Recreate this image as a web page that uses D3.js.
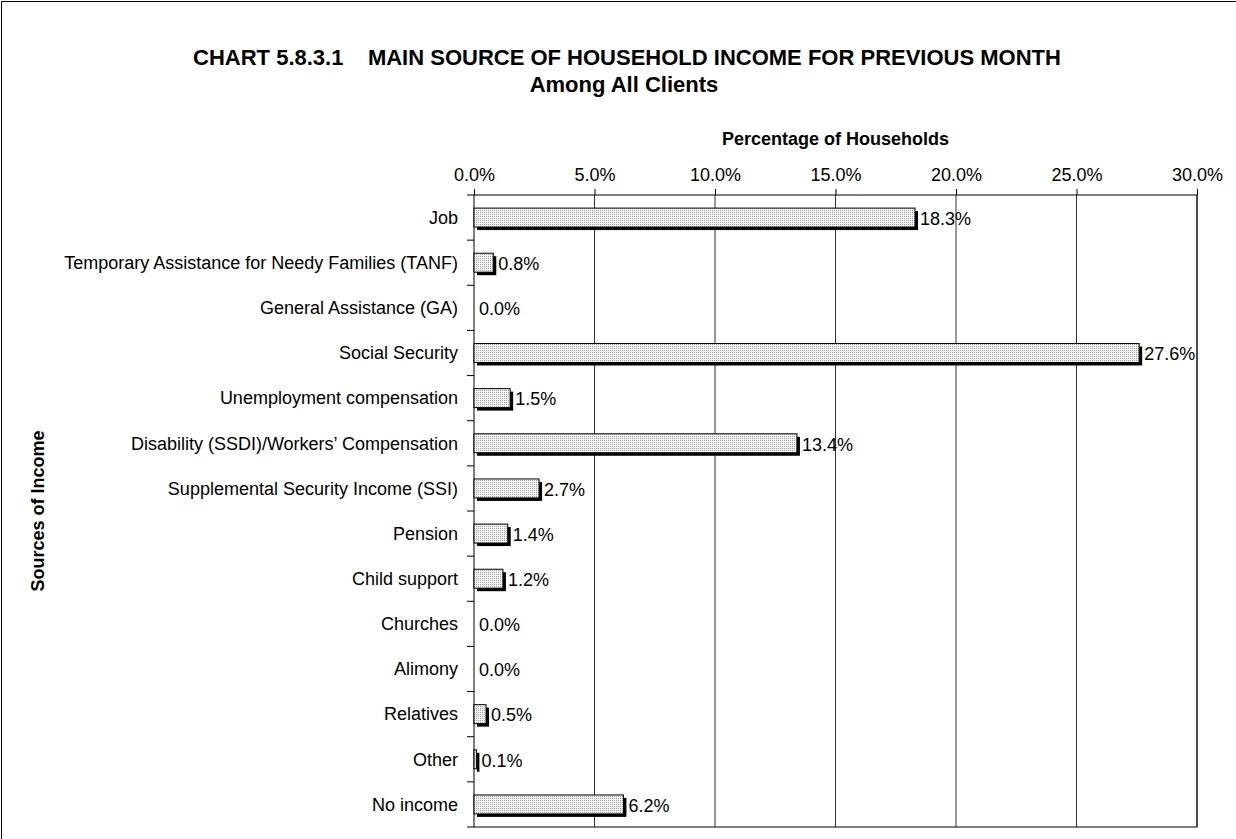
<!DOCTYPE html>
<html>
<head>
<meta charset="utf-8">
<style>
  body { margin: 0; background: #fff; }
  svg { display: block; font-family: "Liberation Sans", Arial, sans-serif; }
</style>
</head>
<body>
<div id="chartId"></div>
<script src="https://d3js.org/d3.v7.min.js"></script>
<script>

// Data
const categories = [
  "Job",
  "Temporary Assistance for Needy Families (TANF)",
  "General Assistance (GA)",
  "Social Security",
  "Unemployment compensation",
  "Disability (SSDI)/Workers\u2019 Compensation",
  "Supplemental Security Income (SSI)",
  "Pension",
  "Child support",
  "Churches",
  "Alimony",
  "Relatives",
  "Other",
  "No income"
];
const values = [18.3, 0.8, 0.0, 27.6, 1.5, 13.4, 2.7, 1.4, 1.2, 0.0, 0.0, 0.5, 0.1, 6.2];
const xTicks = [0, 5, 10, 15, 20, 25, 30];

const W = 1236, H = 839;
const plot = {left: 474, right: 1197, top: 195, bottom: 827};

const rows = categories.map((c, i) => ({name: c, value: values[i]}));

const svg = d3.select("#chartId").append("svg")
  .attr("width", W).attr("height", H);

// dotted fill for the bars
const pat = svg.append("defs").append("pattern")
  .attr("id", "dots").attr("patternUnits", "userSpaceOnUse")
  .attr("width", 2).attr("height", 2);
pat.append("rect").attr("width", 2).attr("height", 2).attr("fill", "#f4f4f4");
pat.append("rect").attr("width", 1).attr("height", 1).attr("fill", "#a0a0a0");

// outer frame (top and left edges visible)
svg.append("path").attr("d", `M1.5,${H} V1.5 H${W}`)
  .attr("fill", "none").attr("stroke", "#000").attr("stroke-width", 1);

// titles
svg.append("text").attr("x", 627).attr("y", 65)
  .attr("text-anchor", "middle").attr("font-weight", "bold").attr("font-size", "22px")
  .attr("xml:space", "preserve")
  .text("CHART 5.8.3.1    MAIN SOURCE OF HOUSEHOLD INCOME FOR PREVIOUS MONTH");
svg.append("text").attr("x", 624).attr("y", 92)
  .attr("text-anchor", "middle").attr("font-weight", "bold").attr("font-size", "22px")
  .text("Among All Clients");
svg.append("text").attr("x", (plot.left + plot.right) / 2).attr("y", 145)
  .attr("text-anchor", "middle").attr("font-weight", "bold").attr("font-size", "18px")
  .text("Percentage of Households");
svg.append("text")
  .attr("transform", "translate(44,511) rotate(-90)")
  .attr("text-anchor", "middle").attr("font-weight", "bold").attr("font-size", "18px")
  .text("Sources of Income");

const x = d3.scaleLinear().domain([0, 30]).range([plot.left, plot.right]);
const y = d3.scaleBand().domain(categories).range([plot.top, plot.bottom])
  .paddingInner(0.58).paddingOuter(0.29);

// gridlines
svg.append("g").selectAll("line").data(xTicks.slice(1)).join("line")
  .attr("x1", d => x(d)).attr("x2", d => x(d))
  .attr("y1", plot.top).attr("y2", plot.bottom)
  .attr("stroke", "#333").attr("stroke-width", 1);

// plot frame
svg.append("rect").attr("x", plot.left).attr("y", plot.top)
  .attr("width", plot.right - plot.left).attr("height", plot.bottom - plot.top)
  .attr("fill", "none").attr("stroke", "#000").attr("stroke-width", 1);

// top axis
const xAxis = d3.axisTop(x).tickValues(xTicks).tickSize(6).tickSizeOuter(0)
  .tickFormat(d => d.toFixed(1) + "%");
const gx = svg.append("g").attr("transform", `translate(0,${plot.top})`).call(xAxis);
gx.select(".domain").remove();
gx.selectAll("text").attr("font-size", "18px").attr("fill", "#000")
  .attr("font-family", "Liberation Sans, Arial, sans-serif").attr("y", -14).attr("dy", 0);
gx.selectAll("line").attr("stroke", "#000");

// left axis: ticks between categories
const step = (plot.bottom - plot.top) / categories.length;
svg.append("g").selectAll("line").data(d3.range(categories.length + 1)).join("line")
  .attr("x1", plot.left - 7).attr("x2", plot.left)
  .attr("y1", i => plot.top + i * step).attr("y2", i => plot.top + i * step)
  .attr("stroke", "#000");
svg.append("g").selectAll("text").data(categories).join("text")
  .attr("x", plot.left - 16).attr("y", d => y(d) + y.bandwidth() / 2)
  .attr("dy", "0.35em").attr("text-anchor", "end").attr("font-size", "18px")
  .text(d => d);

const nonZero = rows.filter(d => d.value > 0);
// shadow
svg.append("g").selectAll("rect").data(nonZero).join("rect")
  .attr("x", x(0) + 3).attr("y", d => y(d.name) + 3)
  .attr("width", d => x(d.value) - x(0)).attr("height", y.bandwidth())
  .attr("fill", "#000");
// bar
svg.append("g").selectAll("rect").data(nonZero).join("rect")
  .attr("x", x(0)).attr("y", d => y(d.name))
  .attr("width", d => x(d.value) - x(0)).attr("height", y.bandwidth())
  .attr("fill", "url(#dots)").attr("stroke", "#000").attr("stroke-width", 1);
// value labels
svg.append("g").selectAll("text").data(rows).join("text")
  .attr("x", d => x(d.value) + 5)
  .attr("y", d => y(d.name) + y.bandwidth() / 2 + 1)
  .attr("dy", "0.35em").attr("font-size", "18px")
  .text(d => d.value.toFixed(1) + "%");

</script>
</body>
</html>
